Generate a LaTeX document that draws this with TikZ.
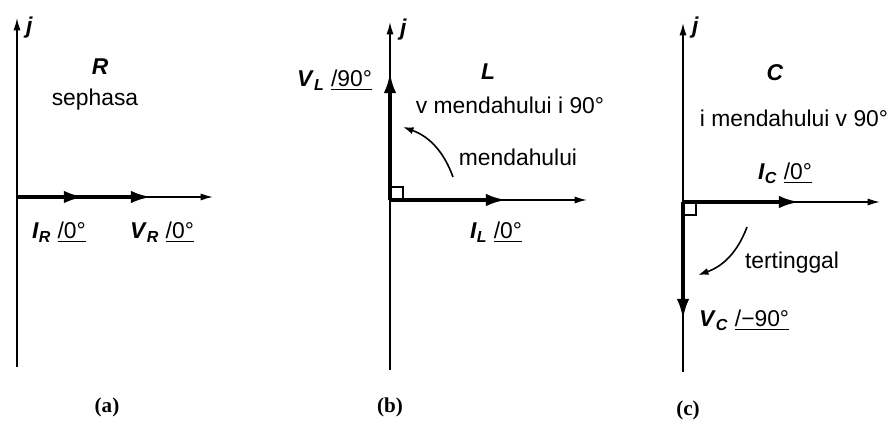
\documentclass[tikz,border=0pt]{standalone}
\usepackage{fontspec}
\setmainfont{Liberation Sans}
\newfontfamily\capfont{Liberation Serif}
\usetikzlibrary{arrows.meta}
\newcommand{\phq}[2]{\textbf{\textit{#1}\textsubscript{\textit{#2}}}}
\newcommand{\phang}[1]{\underline{/#1}}

\begin{document}
\begin{tikzpicture}[x=0.02cm, y=-0.02cm,
    axis/.style={line width=0.8pt, -{Latex[length=7pt,width=4pt]}},
    vec/.style={line width=2.3pt, -{Latex[length=12pt,width=7pt]}},
    bendarrow/.style={line width=0.9pt, -{Latex[length=6pt,width=4pt]}},
    lbl/.style={font=\fontsize{13}{15}\selectfont, inner sep=1pt},
    capname/.style={font=\capfont\bfseries\fontsize{12}{14}\selectfont}]
    \useasboundingbox (0,0) rectangle (895,421);

    % Panel (a): resistor
    \coordinate (oa) at (17,197);
    \coordinate (ta) at (17,18);
    \coordinate (ba) at (17,367);
    \coordinate (ra) at (213,197);
    \coordinate (ira) at (85,197);
    \coordinate (vra) at (152,197);
    \draw[axis] (ba) -- (ta);
    \draw[axis] (oa) -- (ra);
    \draw[vec] (oa) -- (vra);
    \draw[vec] (oa) -- (ira);
    \node[lbl, anchor=west] (ja) at (24,28) {\textbf{\textit{j}}};
    \node[lbl] (ra-name) at (100,67) {\textbf{\textit{R}}};
    \node[lbl] (ra-text) at (95,100) {sephasa};
    \node[lbl, anchor=west] (ir-lbl) at (30,232) {\phq{I}{R}\ \phang{0°}};
    \node[lbl, anchor=west] (vr-lbl) at (128,232) {\phq{V}{R}\ \phang{0°}};
    \node[capname] (cap-a) at (107,407) {(a)};

    % Panel (b): inductor
    \coordinate (ob) at (390,200);
    \coordinate (tb) at (390,22);
    \coordinate (bb) at (390,370);
    \coordinate (rb) at (587,200);
    \coordinate (ilb) at (507,200);
    \coordinate (vlb) at (390,72);
    \coordinate (sb1) at (453,177);
    \coordinate (sb2) at (403,127);
    \draw[axis] (bb) -- (tb);
    \draw[axis] (ob) -- (rb);
    \draw[vec] (ob) -- (ilb);
    \draw[vec] (ob) -- (vlb);
    \draw[line width=0.6pt] (ob) rectangle ++(13,-13);
    \draw[bendarrow] (sb1) to[bend right=25] (sb2);
    \node[lbl, anchor=west] (jb) at (398,30) {\textbf{\textit{j}}};
    \node[lbl] (lb-name) at (488,72) {\textbf{\textit{L}}};
    \node[lbl] (lb-text) at (510,105) {v mendahului i 90°};
    \node[lbl] (lb-lead) at (518,157) {mendahului};
    \node[lbl, anchor=east] (vl-lbl) at (374,80) {\phq{V}{L}\ \phang{90°}};
    \node[lbl, anchor=west] (il-lbl) at (468,232) {\phq{I}{L}\ \phang{0°}};
    \node[capname] (cap-b) at (390,407) {(b)};

    % Panel (c): capacitor
    \coordinate (oc) at (683,202);
    \coordinate (tc) at (683,23);
    \coordinate (bc) at (683,372);
    \coordinate (rc) at (880,202);
    \coordinate (icc) at (800,202);
    \coordinate (vcc) at (683,320);
    \coordinate (sc1) at (747,227);
    \coordinate (sc2) at (698,275);
    \draw[axis] (bc) -- (tc);
    \draw[axis] (oc) -- (rc);
    \draw[vec] (oc) -- (icc);
    \draw[vec] (oc) -- (vcc);
    \draw[line width=0.6pt] (oc) rectangle ++(13,13);
    \draw[bendarrow] (sc1) to[bend left=25] (sc2);
    \node[lbl, anchor=west] (jc) at (690,28) {\textbf{\textit{j}}};
    \node[lbl] (cc-name) at (775,73) {\textbf{\textit{C}}};
    \node[lbl] (cc-text) at (794,118) {i mendahului v 90°};
    \node[lbl] (cc-lag) at (792,263) {tertinggal};
    \node[lbl, anchor=west] (ic-lbl) at (756,173) {\phq{I}{C}\ \phang{0°}};
    \node[lbl, anchor=west] (vc-lbl) at (697,320) {\phq{V}{C}\ \phang{−90°}};
    \node[capname] (cap-c) at (688,410) {(c)};
\end{tikzpicture}
\end{document}
